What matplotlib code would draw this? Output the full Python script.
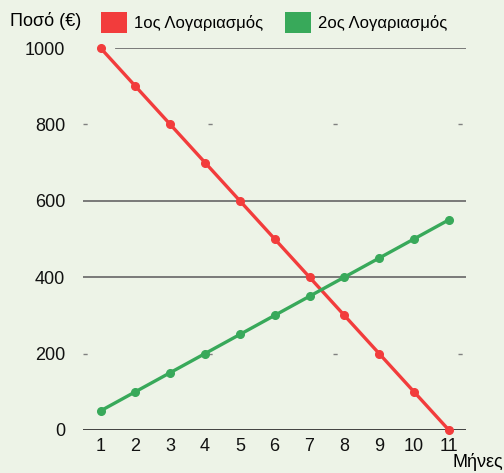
import matplotlib

matplotlib.use("Agg")
import matplotlib.pyplot as plt
from matplotlib.patches import Patch

plt.rcParams["font.family"] = ["Liberation Sans", "DejaVu Sans"]

months = [1, 2, 3, 4, 5, 6, 7, 8, 9, 10, 11]
account_1 = [1000, 900, 800, 700, 600, 500, 400, 300, 200, 100, 0]
account_2 = [50, 100, 150, 200, 250, 300, 350, 400, 450, 500, 550]
y_ticks = [0, 200, 400, 600, 800, 1000]
series_labels = ["1ος Λογαριασμός", "2ος Λογαριασμός"]

bg = "#edf3e7"
red = "#f23c3c"
green = "#38a95a"

fig = plt.figure(figsize=(5.04, 4.73), dpi=100, facecolor=bg)
ax = fig.add_axes([0.165, 0.091, 0.76, 0.8075], facecolor=bg)

# solid grid lines
for y in (600, 400):
    ax.axhline(y, color="#707070", lw=1.3, zorder=1)
ax.axhline(1000, xmin=0.086, color="#707070", lw=1.3, zorder=1)
# the 800 / 200 lines are barely visible, just a few specks
for y in (800, 200):
    ax.axhline(y, color="#808080", lw=1.0, ls=(0, (3, 87)), zorder=1)
ax.axhline(0, color="#333333", lw=1.3, zorder=1)

ax.plot(months, account_1, color=red, lw=2.4, marker="o", ms=5.5,
        clip_on=False, zorder=3)
ax.plot(months, account_2, color=green, lw=2.4, marker="o", ms=5.5,
        clip_on=False, zorder=3)

ax.set_xlim(0.5, 11.5)
ax.set_ylim(0, 1000)
ax.set_xticks(months)
ax.set_yticks(y_ticks)
ax.tick_params(axis="both", length=0, labelsize=13, colors="#111111")
ax.tick_params(axis="x", pad=6)
ax.tick_params(axis="y", pad=13)
for s in ax.spines.values():
    s.set_visible(False)

fig.text(0.02, 0.955, "Ποσό (€)", fontsize=13, va="center", ha="left")
fig.text(0.998, 0.004, "Μήνες", fontsize=13, va="bottom", ha="right")

handles = [Patch(facecolor=red, edgecolor="none"),
           Patch(facecolor=green, edgecolor="none")]
fig.legend(handles, series_labels, loc="center left",
           bbox_to_anchor=(0.17, 0.953), ncol=2, frameon=False,
           fontsize=12, handlelength=1.6, handleheight=1.6,
           handletextpad=0.4, columnspacing=1.3)

fig.savefig("out.png", dpi=100, facecolor=bg)
